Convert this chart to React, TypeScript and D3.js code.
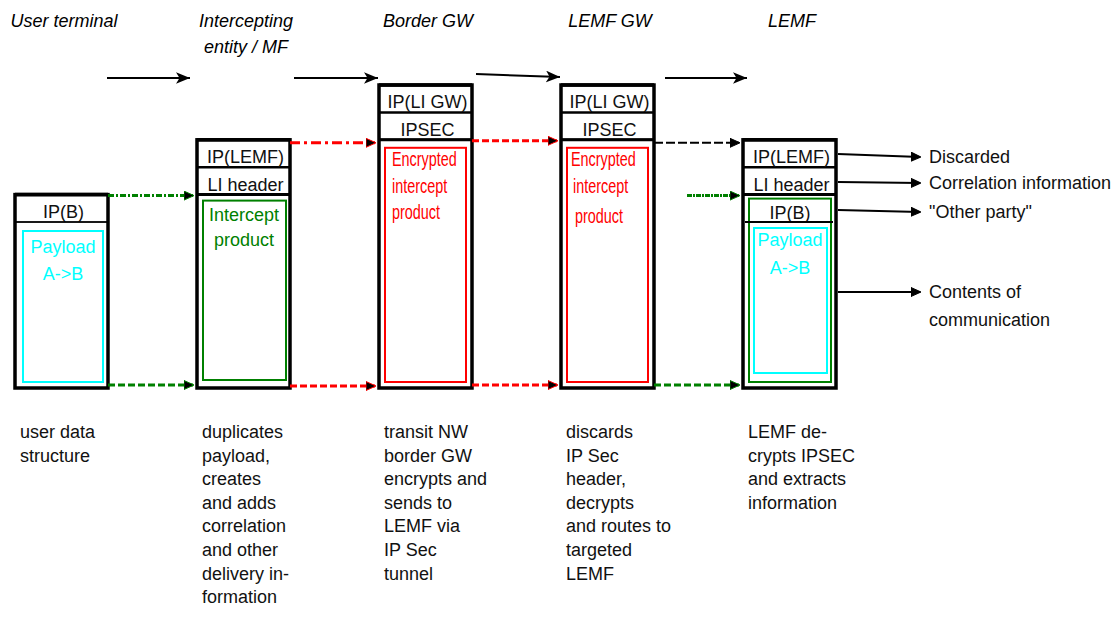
import React from "react";
import * as d3 from "d3";

const stageLabels: string[][] = [
  ["User terminal"],
  ["Intercepting", "entity / MF"],
  ["Border GW"],
  ["LEMF GW"],
  ["LEMF"],
];
const headerLabels: string[][] = [
  ["IP(B)"],
  ["IP(LEMF)", "LI header"],
  ["IP(LI GW)", "IPSEC"],
  ["IP(LI GW)", "IPSEC"],
  ["IP(LEMF)", "LI header"],
];
const payloadLabel = ["Payload", "A->B"];
const interceptLabel = ["Intercept", "product"];
const encryptedLabel = ["Encrypted", "intercept", "product"];
const innerHeader = "IP(B)";
const descriptions: string[][] = [
  ["user data", "structure"],
  ["duplicates", "payload,", "creates", "and adds", "correlation", "and other", "delivery in-", "formation"],
  ["transit NW", "border GW", "encrypts and", "sends to", "LEMF via", "IP Sec", "tunnel"],
  ["discards", "IP Sec", "header,", "decrypts", "and routes to", "targeted", "LEMF"],
  ["LEMF de-", "crypts IPSEC", "and extracts", "information"],
];
const outputs: string[][] = [
  ["Discarded"],
  ["Correlation information"],
  ['"Other party"'],
  ["Contents of", "communication"],
];

const GREEN = "#008000";
const RED = "#ff0000";
const CYAN = "#00ffff";
const FONT = "'Liberation Sans', Arial, Helvetica, sans-serif";

const colX = d3.scaleLinear().domain([0, 4]).range([15, 743]);
const levelY = d3.scaleLinear().domain([0, 5]).range([85, 222]);
const boxW = 93;
const boxBottom = 388;
const headerStart = [4, 2, 0, 0, 2];
const descY = d3.scaleLinear().domain([0, 1]).range([438, 461.6]);

type Flow = { from: number; y: number; color: string; dash: string; short?: boolean };
const flows: Flow[] = [
  { from: 0, y: levelY(4) + 1, color: GREEN, dash: "6,2,2,2" },
  { from: 0, y: boxBottom - 3, color: GREEN, dash: "7,3" },
  { from: 1, y: levelY(2) + 3, color: RED, dash: "10,4,3,4" },
  { from: 1, y: boxBottom - 2, color: RED, dash: "7,3" },
  { from: 2, y: levelY(2) + 1, color: RED, dash: "7,3" },
  { from: 2, y: boxBottom - 3, color: RED, dash: "7,3" },
  { from: 3, y: levelY(2) + 3, color: "#000", dash: "9,3" },
  { from: 3, y: levelY(4) + 1, color: GREEN, dash: "5,1,2,1", short: true },
  { from: 3, y: boxBottom - 3, color: GREEN, dash: "7,3" },
];

const outStartY = [154, 182, 210, 292];
const outSlant = [3, 1, 2, 0];

function Marker({ id, color }: { id: string; color: string }) {
  return (
    <marker id={id} viewBox="0 0 10 10" refX="9" refY="5" markerWidth="10" markerHeight="10" markerUnits="userSpaceOnUse" orient="auto">
      <path d="M0,0.5 L10,5 L0,9.5 Z" fill="#000" stroke={color} strokeWidth={1} />
    </marker>
  );
}

export default function App() {
  const textStyle = { fontFamily: FONT, fontSize: 18 } as const;
  return (
    <svg width={1119} height={628} style={{ position: "absolute", left: 0, top: 0, background: "#fff" }}>
      <defs>
        <Marker id="m-black" color="#000" />
        <Marker id="m-green" color={GREEN} />
        <Marker id="m-red" color={RED} />
        <marker id="m-top" viewBox="0 0 12 10" refX="12" refY="5" markerWidth="14" markerHeight="12" markerUnits="userSpaceOnUse" orient="auto">
          <path d="M0,0 L12,5 L0,10 L3,5 Z" fill="#000" />
        </marker>
      </defs>

      {/* stage labels */}
      {stageLabels.map((lines, i) =>
        lines.map((t, j) => (
          <text key={`s${i}${j}`} x={colX(i) + 49} y={27 + j * 26} textAnchor="middle" fontStyle="italic" style={textStyle} fill="#000">
            {t}
          </text>
        ))
      )}

      {/* top black arrows */}
      {d3.range(4).map((i) => (
        <line key={`ta${i}`} x1={colX(i) + boxW + (i === 0 ? -1 : i === 3 ? 11 : 4)} y1={i === 2 ? 74 : 78}
          x2={colX(i + 1) - (i === 0 ? 7 : i === 3 ? -4 : 1)} y2={i === 2 ? 77 : 78}
          stroke="#000" strokeWidth={2} markerEnd="url(#m-top)" />
      ))}

      {/* boxes */}
      {headerLabels.map((hdrs, i) => {
        const x = colX(i);
        const top = levelY(headerStart[i]);
        const bodyTop = levelY(headerStart[i] + hdrs.length);
        return (
          <g key={`b${i}`}>
            {hdrs.map((h, j) => {
              const y0 = levelY(headerStart[i] + j);
              const y1 = levelY(headerStart[i] + j + 1);
              return (
                <g key={j}>
                  <line x1={x} x2={x + boxW} y1={y1} y2={y1} stroke={i === 0 ? "#333" : "#000"} strokeWidth={i === 0 ? 1.5 : 2.5} />
                  <text x={x + boxW / 2 + 2} y={y1 - 4} textAnchor="middle" style={textStyle} fill="#111">{h}</text>
                  {j === 0 && <line x1={x} x2={x + boxW} y1={y0} y2={y0} stroke="#000" strokeWidth={3.5} />}
                </g>
              );
            })}
            {i === 0 && (
              <g>
                <rect x={x + 8} y={bodyTop + 9} width={80} height={382 - bodyTop - 9} fill="none" stroke={CYAN} strokeWidth={2} />
                {payloadLabel.map((t, j) => (
                  <text key={j} x={x + 48} y={bodyTop + 31 + j * 27} textAnchor="middle" style={textStyle} fill={CYAN}>{t}</text>
                ))}
              </g>
            )}
            {i === 1 && (
              <g>
                <rect x={x + 6} y={bodyTop + 6} width={83} height={380 - bodyTop - 6} fill="none" stroke={GREEN} strokeWidth={2} />
                {interceptLabel.map((t, j) => (
                  <text key={j} x={x + 47} y={bodyTop + 26 + j * 25} textAnchor="middle" style={textStyle} fill={GREEN}>{t}</text>
                ))}
              </g>
            )}
            {(i === 2 || i === 3) && (
              <g>
                <rect x={x + 6} y={bodyTop + 8} width={81} height={382 - bodyTop - 8} fill="none" stroke={RED} strokeWidth={2} />
                {encryptedLabel.map((t, j) => (
                  <text key={j} transform={`translate(${x + (i === 2 ? 13 : 10 + j * 2)},${bodyTop + 26 + j * 26.8 + (i === 3 && j === 2 ? 4 : 0)}) scale(0.72,1)`}
                    style={{ fontFamily: FONT, fontSize: 20 }} fill={RED}>{t}</text>
                ))}
              </g>
            )}
            {i === 4 && (
              <g>
                <rect x={x + 6} y={bodyTop + 4} width={82} height={382 - bodyTop - 4} fill="none" stroke={GREEN} strokeWidth={2} />
                <text x={x + 47} y={levelY(5) - 3} textAnchor="middle" style={textStyle} fill="#111">{innerHeader}</text>
                <line x1={x + 2} x2={x + 90} y1={levelY(5)} y2={levelY(5)} stroke="#000" strokeWidth={2} />
                <rect x={x + 11} y={levelY(5) + 6} width={73} height={373 - levelY(5) - 6} fill="none" stroke={CYAN} strokeWidth={2} />
                {payloadLabel.map((t, j) => (
                  <text key={j} x={x + 47} y={levelY(5) + 24 + j * 28} textAnchor="middle" style={textStyle} fill={CYAN}>{t}</text>
                ))}
              </g>
            )}
            <rect x={x} y={top} width={boxW} height={boxBottom - top} fill="none" stroke="#000" strokeWidth={3.5} />
            <line x1={x} x2={x + boxW} y1={bodyTop} y2={bodyTop} stroke="#000" strokeWidth={i === 0 ? 1.5 : 3} />
          </g>
        );
      })}

      {/* flow arrows */}
      {flows.map((f, k) => {
        const x1 = f.short ? colX(f.from + 1) - 56 : colX(f.from) + boxW;
        const x2 = colX(f.from + 1) - 4;
        const mk = f.color === GREEN ? "m-green" : f.color === RED ? "m-red" : "m-black";
        return (
          <line key={`f${k}`} x1={x1} x2={x2} y1={f.y} y2={f.y} stroke={f.color} strokeWidth={f.color === "#000" ? 2 : 3}
            strokeDasharray={f.dash} markerEnd={`url(#${mk})`} />
        );
      })}

      {/* outputs */}
      {outputs.map((lines, k) => (
        <g key={`o${k}`}>
          <line x1={colX(4) + boxW + 2} x2={920} y1={outStartY[k]} y2={outStartY[k] + outSlant[k]} stroke="#000" strokeWidth={2} markerEnd="url(#m-black)" />
          {lines.map((t, j) => (
            <text key={j} x={929} y={outStartY[k] + outSlant[k] + 6 + j * 28} style={textStyle} fill="#111">{t}</text>
          ))}
        </g>
      ))}

      {/* descriptions */}
      {descriptions.map((lines, i) =>
        lines.map((t, j) => (
          <text key={`d${i}${j}`} x={colX(i) + 5} y={descY(j)} style={textStyle} fill="#111">{t}</text>
        ))
      )}
    </svg>
  );
}
